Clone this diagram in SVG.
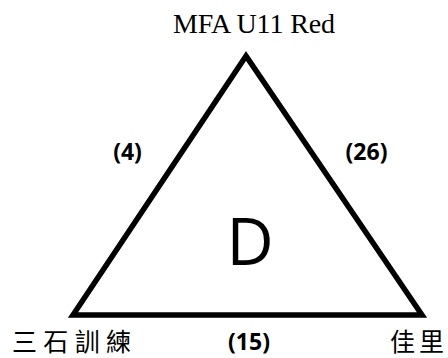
<svg xmlns="http://www.w3.org/2000/svg" width="448" height="358" viewBox="0 0 448 358">
<style>
.tri{fill:none;stroke:#000;stroke-width:5.5;stroke-linejoin:miter;stroke-miterlimit:10}
.mono{font-family:"Liberation Serif",serif;font-size:28px;fill:#000}
.cjk{font-family:"Noto Sans CJK TC","Noto Sans CJK SC",sans-serif;font-size:25px;fill:#000}
.num{font-family:"Open Sans","Noto Sans",sans-serif;font-weight:bold;font-size:23px;fill:#000;text-anchor:middle}
.big{font-family:"Open Sans","Noto Sans",sans-serif;font-size:65px;fill:#000;text-anchor:middle}
</style>
<rect width="448" height="358" fill="#fff"/>
<g id="connectors">
<polygon class="tri" points="246,56 73,315 422,315"/>
<text class="num" x="127.5" y="160">(4)</text>
<text class="num" x="366.5" y="160">(26)</text>
<text class="num" x="249" y="350">(15)</text>
</g>
<g id="node-top"><text class="mono" x="173" y="33" textLength="162" lengthAdjust="spacing">MFA U11 Red</text></g>
<g id="node-left"><text class="cjk" x="12" y="351" textLength="119" lengthAdjust="spacing">三石訓練</text></g>
<g id="node-right"><text class="cjk" x="390" y="351" textLength="54" lengthAdjust="spacing">佳里</text></g>
<g id="center"><text class="big" x="250" y="265">D</text></g>
</svg>
